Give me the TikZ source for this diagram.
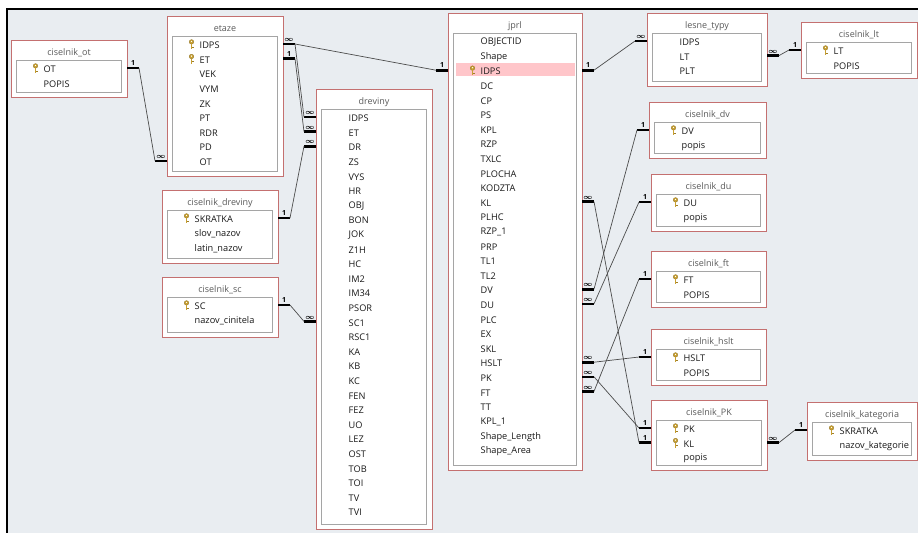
\documentclass[tikz,border=0pt]{standalone}
\usepackage{fontspec}
\setmainfont{Open Sans}
\usetikzlibrary{calc}

\definecolor{hgrund}{RGB}{233,237,241}
\definecolor{rahmen}{RGB}{196,112,112}
\definecolor{innen}{RGB}{165,165,165}
\definecolor{markiert}{RGB}{255,198,202}
\definecolor{schluessel}{RGB}{200,160,50}
\definecolor{titel}{RGB}{90,90,90}

\tikzset{
	tblbox/.style={draw=rahmen, fill=white, line width=0.9pt, inner sep=0, outer sep=0, anchor=north west},
	tblinner/.style={draw=innen, line width=0.8pt, inner sep=0, outer sep=0, anchor=north west},
	tbltitle/.style={font=\fontsize{9}{10}\selectfont, text=titel, inner sep=0},
	field/.style={font=\fontsize{9.2}{10}\selectfont, text=black!90, inner sep=0, anchor=west},
	stub/.style={line width=2.6pt},
	relline/.style={draw=black!70, line width=0.7pt},
	card/.style={font=\fontsize{7}{7}\selectfont\bfseries, inner sep=0, anchor=south, yshift=1pt},
	keyicon/.pic={
		\filldraw[fill=schluessel, draw=schluessel!70!black, line width=0.3pt] (0,-2.6) circle (2.3);
		\fill[white] (0,-3) circle (0.7);
		\fill[schluessel] (-0.8,-0.6) rectangle (0.8,4.6);
		\fill[schluessel!80!black] (0.8,2) rectangle (2,2.9);
	}
}

% Tabelle: id, titel, x, y, breite, hoehe, felder (0 normal, 1 schluessel, 2 markiert)
\newcommand{\dbtable}[7]{%
	\node[tblbox, minimum width=#5pt, minimum height=#6pt] (#1) at (#3,#4) {};
	\node[tbltitle] (#1-t) at ($(#1.north)+(0,13)$) {#2};
	\node[tblinner, minimum width=#5pt-11pt, minimum height=#6pt-25pt] (#1-in)
		at ($(#1.north west)+(5.5,20)$) {};
	\foreach \k/\f [count=\i] in {#7} {
		\ifnum\k=2
			\fill[markiert] ($(#1-in.north west)+(2,{1+14.6*(\i-1)})$) rectangle
				($(#1-in.north east)+(-2,{14+14.6*(\i-1)})$);
		\fi
		\node[field] (#1-\i) at ($(#1-in.north west)+(27,{9.5+14.6*(\i-1)})$) {\f};
		\ifnum\k>0 \pic at ($(#1-\i.west)+(-8,-1)$) {keyicon}; \fi
	}
}

% Beziehungsende: tabelle, zeile, seite, beschriftung
\newcommand{\relend}[4]{%
	\coordinate (#1-#2-#3-a) at ($(#1.#3 |- #1-#2)+(0,-1.5)$);
	\coordinate (#1-#2-#3) at ($(#1-#2-#3-a)!-12pt!(#1.center |- #1-#2-#3-a)$);
	\draw[stub] (#1-#2-#3-a) -- (#1-#2-#3) node[midway, card] {#4};
}
\newcommand{\mnoho}{{\boldmath$\infty$}}

\begin{document}
\begin{tikzpicture}[x=1pt, y=-1pt]
	\useasboundingbox (0,0) rectangle (918,533);
	% Hintergrund
	\fill[white] (0,0) rectangle (918,533);
	\fill[hgrund] (7,9) rectangle (918,533);
	\draw[line width=2.5pt] (6,9) -- (918,9);
	\draw[line width=2.5pt] (7,8) -- (7,533);

	% Tabellen links
	\dbtable{cot}{ciselnik\_ot}{11}{40}{116}{57}{1/OT,0/POPIS}
	\dbtable{etaze}{etaze}{167}{16}{116}{160}
		{1/IDPS,1/ET,0/VEK,0/VYM,0/ZK,0/PT,0/RDR,0/PD,0/OT}
	\dbtable{cdrev}{ciselnik\_dreviny}{162}{190}{116}{73}
		{1/SKRATKA,0/slov\_nazov,0/latin\_nazov}
	\dbtable{csc}{ciselnik\_sc}{162}{277}{116}{60}{1/SC,0/nazov\_cinitela}
	\dbtable{drev}{dreviny}{316}{89}{116}{440}
		{0/IDPS,0/ET,0/DR,0/ZS,0/VYS,0/HR,0/OBJ,0/BON,0/JOK,0/Z1H,0/HC,0/IM2,0/IM34,0/PSOR,
		 0/SC1,0/RSC1,0/KA,0/KB,0/KC,0/FEN,0/FEZ,0/UO,0/LEZ,0/OST,0/TOB,0/TOI,0/TV,0/TVI}

	% Haupttabelle
	\dbtable{jprl}{jprl}{448}{13}{134}{457}
		{0/OBJECTID,0/Shape,2/IDPS,0/DC,0/CP,0/PS,0/KPL,0/RZP,0/TXLC,0/PLOCHA,0/KODZTA,0/KL,
		 0/PLHC,0/RZP\_1,0/PRP,0/TL1,0/TL2,0/DV,0/DU,0/PLC,0/EX,0/SKL,0/HSLT,0/PK,0/FT,0/TT,
		 0/KPL\_1,0/Shape\_Length,0/Shape\_Area}

	% Tabellen rechts
	\dbtable{lesne}{lesne\_typy}{647}{13}{120}{73}{0/IDPS,0/LT,0/PLT}
	\dbtable{clt}{ciselnik\_lt}{801}{22}{116}{56}{1/LT,0/POPIS}
	\dbtable{cdv}{ciselnik\_dv}{649}{102}{117}{56}{1/DV,0/popis}
	\dbtable{cdu}{ciselnik\_du}{651}{174}{115}{57}{1/DU,0/popis}
	\dbtable{cft}{ciselnik\_ft}{651}{251}{115}{56}{1/FT,0/POPIS}
	\dbtable{chslt}{ciselnik\_hslt}{651}{329}{115}{56}{1/HSLT,0/POPIS}
	\dbtable{cpk}{ciselnik\_PK}{651}{400}{116}{70}{1/PK,1/KL,0/popis}
	\dbtable{ckat}{ciselnik\_kategoria}{807}{402}{110}{58}{1/SKRATKA,0/nazov\_kategorie}

	% Beziehungen links
	\relend{cot}{1}{east}{1}
	\relend{etaze}{9}{west}{\mnoho}
	\draw[relline] (cot-1-east) -- (etaze-9-west);
	\relend{jprl}{3}{west}{1}
	\relend{etaze}{1}{east}{\mnoho}
	\draw[relline] (jprl-3-west) -- (etaze-1-east);
	\relend{etaze}{2}{east}{1}
	\relend{drev}{1}{west}{\mnoho}
	\relend{drev}{2}{west}{\mnoho}
	\draw[relline] (etaze-1-east) -- (drev-1-west);
	\draw[relline] (etaze-2-east) -- (drev-2-west);
	\relend{cdrev}{1}{east}{1}
	\relend{drev}{3}{west}{\mnoho}
	\draw[relline] (cdrev-1-east) -- (drev-3-west);
	\relend{csc}{1}{east}{1}
	\relend{drev}{15}{west}{\mnoho}
	\draw[relline] (csc-1-east) -- (drev-15-west);

	% Beziehungen rechts
	\relend{jprl}{3}{east}{1}
	\relend{lesne}{1}{west}{\mnoho}
	\draw[relline] (jprl-3-east) -- (lesne-1-west);
	\relend{clt}{1}{west}{1}
	\relend{lesne}{2}{east}{\mnoho}
	\draw[relline] (clt-1-west) -- (lesne-2-east);
	\foreach \tab/\zeile in {cdv/18,cdu/19,cft/25,chslt/23} {
		\relend{\tab}{1}{west}{1}
		\relend{jprl}{\zeile}{east}{\mnoho}
		\draw[relline] (\tab-1-west) -- (jprl-\zeile-east);
	}
	\relend{cpk}{1}{west}{1}
	\relend{cpk}{2}{west}{1}
	\relend{jprl}{24}{east}{\mnoho}
	\relend{jprl}{12}{east}{\mnoho}
	\draw[relline] (cpk-1-west) -- (jprl-24-east);
	\draw[relline] (cpk-2-west) -- (jprl-12-east);
	\relend{ckat}{1}{west}{1}
	\relend{cpk}{2}{east}{\mnoho}
	\draw[relline] (ckat-1-west) -- (cpk-2-east);
\end{tikzpicture}
\end{document}
